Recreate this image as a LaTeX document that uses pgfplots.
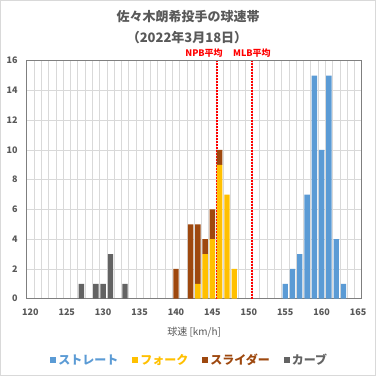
\documentclass[border=0pt]{standalone}
\usepackage{fontspec}
\setmainfont{Noto Sans CJK JP}
\usepackage{pgfplots}
\usepackage{pgfplotstable}
\pgfplotsset{compat=1.18}
\definecolor{cStr}{HTML}{5B9BD5}
\definecolor{cFork}{HTML}{FFC000}
\definecolor{cSl}{HTML}{9E480E}
\definecolor{cCur}{HTML}{636363}
\definecolor{txt}{HTML}{595959}
\definecolor{gridc}{HTML}{D9D9D9}
\definecolor{axc}{HTML}{7F7F7F}
\definecolor{refred}{HTML}{FF0000}

\pgfplotstableread{
x str fork sl cur
127 0 0 0 1
128 0 0 0 0
129 0 0 0 1
130 0 0 0 1
131 0 0 0 3
132 0 0 0 0
133 0 0 0 1
134 0 0 0 0
135 0 0 0 0
136 0 0 0 0
137 0 0 0 0
138 0 0 0 0
139 0 0 0 0
140 0 0 2 0
141 0 0 0 0
142 0 0 5 0
143 0 1 4 0
144 0 3 1 0
145 0 4 2 0
146 0 9 1 0
147 0 7 0 0
148 0 2 0 0
149 0 0 0 0
150 0 0 0 0
151 0 0 0 0
152 0 0 0 0
153 0 0 0 0
154 0 0 0 0
155 1 0 0 0
156 2 0 0 0
157 3 0 0 0
158 7 0 0 0
159 15 0 0 0
160 10 0 0 0
161 15 0 0 0
162 4 0 0 0
163 1 0 0 0
}\speed

\begin{document}
\begin{tikzpicture}
\fill[white] (0,0) rectangle (376bp,376bp);
\draw[gridc, line width=1bp] (0.5bp,0.5bp) rectangle (375.5bp,375.5bp);
\node[text=txt, font=\fontsize{13bp}{15bp}\selectfont\bfseries] at (188bp,359bp) {佐々木朗希投手の球速帯};
\node[text=txt, font=\fontsize{13bp}{15bp}\selectfont\bfseries] at (187bp,338bp) {（2022年3月18日）};
\begin{axis}[
  at={(26.7bp,77.3bp)}, anchor=south west,
  width=335bp, height=238bp, scale only axis,
  clip=false,
  ybar stacked, bar width=0.74,
  xmin=119.5, xmax=165.5, ymin=0, ymax=16,
  xtick={120,125,...,165}, ytick={0,2,...,16},
  minor xtick={120.5,121.5,...,164.5},
  xminorgrids, ymajorgrids,
  minor grid style={gridc, line width=0.6bp},
  major grid style={gridc, line width=0.8bp},
  major tick length=0pt, minor tick length=0pt,
  axis line style={axc, line width=0.9bp},
  /pgf/number format/assume math mode=true,
  /pgf/number format/1000 sep={},
  tick label style={text=txt, font=\fontsize{9bp}{10bp}\selectfont\bfseries},
  xticklabel style={anchor=center, yshift=-13.6bp},
  yticklabel style={anchor=east, inner sep=0pt, xshift=-9bp},
  xlabel={球速 [km/h]},
  xlabel style={at={(axis description cs:0.5,0)}, anchor=center, yshift=-33bp, text=txt, font=\fontsize{10bp}{12bp}\selectfont},
  legend columns=4,
  legend style={at={(0.487,-0.2576)}, anchor=center, draw=none, fill=none,
    font=\fontsize{12bp}{14bp}\selectfont\bfseries,
    /tikz/every even column/.append style={column sep=12bp},
    inner sep=0pt},
  legend image code/.code={\fill[#1] (0bp,-3bp) rectangle (6bp,3bp);},
]
\addplot[fill=cStr, draw=none] table[x=x, y=str] {\speed};
\addlegendentry{\textcolor{cStr}{ストレート}}
\addplot[fill=cFork, draw=none] table[x=x, y=fork] {\speed};
\addlegendentry{\textcolor{cFork}{フォーク}}
\addplot[fill=cSl, draw=none] table[x=x, y=sl] {\speed};
\addlegendentry{\textcolor{cSl}{スライダー}}
\addplot[fill=cCur, draw=none] table[x=x, y=cur] {\speed};
\addlegendentry{\textcolor{cCur}{カーブ}}
\addplot[stack plots=false, sharp plot, refred, line width=1.6bp, dash pattern=on 1.6bp off 1.4bp, forget plot]
  coordinates {(145.6,0) (145.6,16)};
\addplot[stack plots=false, sharp plot, refred, line width=1.6bp, dash pattern=on 1.6bp off 1.4bp, forget plot]
  coordinates {(150.4,0) (150.4,16)};
\node[text=refred, font=\fontsize{9bp}{10bp}\selectfont\bfseries, anchor=center] at (axis cs:143.85,16) [yshift=7.7bp] {NPB平均};
\node[text=refred, font=\fontsize{9bp}{10bp}\selectfont\bfseries, anchor=center] at (axis cs:150.43,16) [yshift=7.7bp] {MLB平均};
\end{axis}
\end{tikzpicture}
\end{document}
